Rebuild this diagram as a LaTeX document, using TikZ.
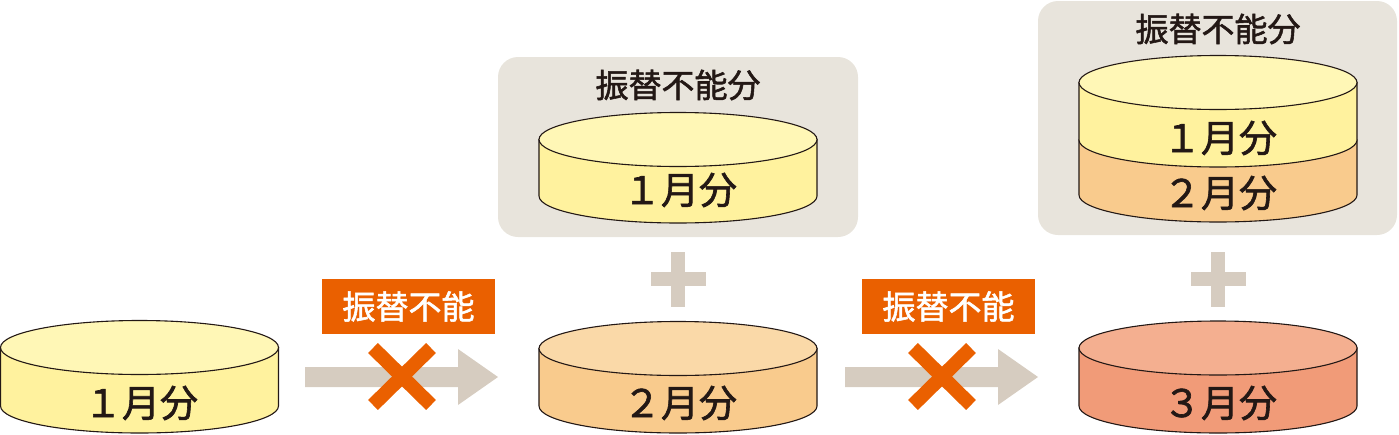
\documentclass[tikz,border=0pt]{standalone}
\usepackage{fontspec}
\setmainfont{Noto Sans CJK JP}[BoldFont=*,BoldFeatures={FakeBold=1.6}]
\definecolor{ink}{HTML}{231815}
\definecolor{panelgray}{HTML}{E8E4DC}
\definecolor{arrowc}{HTML}{D6CCC0}
\definecolor{orangec}{HTML}{EA6000}
\definecolor{ytop}{HTML}{FFF7B6}
\definecolor{yside}{HTML}{FFF29E}
\definecolor{otop}{HTML}{FAD9A8}
\definecolor{oside}{HTML}{F9CB8D}
\definecolor{rtop}{HTML}{F4AF90}
\definecolor{rside}{HTML}{F19B78}
% #1 cx, #2 top centre y, #3 bottom centre y, #4 side colour
\newcommand\cylside[4]{%
  \path[fill=#4,outl] (#1-139,#2) -- (#1-139,#3)
    arc[start angle=180,end angle=0,x radius=139,y radius=27]
    -- (#1+139,#2) -- cycle;}
\newcommand\cyltop[3]{%
  \path[fill=#3,outl] (#1,#2) ellipse[x radius=139,y radius=27];}
\begin{document}
\begin{tikzpicture}[x=1pt,y=-1pt,
  outl/.style={draw=ink,line width=1.1pt},
  lbl/.style={font=\fontsize{38}{38}\selectfont\bfseries,text=ink,inner sep=0pt},
  ttl/.style={font=\fontsize{33}{33}\selectfont\bfseries,text=ink,inner sep=0pt},
  panel/.style={fill=panelgray,rounded corners=20pt},
  tag/.style={fill=orangec,text=white,font=\fontsize{33}{33}\selectfont\bfseries,
    inner sep=0pt,minimum width=173pt,minimum height=55pt},
  blockarrow/.style={fill=arrowc},
  cross/.style={draw=orangec,line width=14pt},
]
\useasboundingbox (0,0) rectangle (1399,434);

% panels
\path[panel] (498,57) rectangle (858,237);
\path[panel] (1038,1) rectangle (1397,235);
\node[ttl] (t1) at (678,85) {振替不能分};
\node[ttl] (t2) at (1218,29) {振替不能分};

% cylinder in panel 1
\cylside{678}{139.5}{196}{yside}
\cyltop{678}{139.5}{ytop}
\node[lbl] (p1a) at (680,190) {１月分};

% two-layer cylinder in panel 2
\cylside{1218}{140}{195}{oside}
\cylside{1218}{82.5}{140}{yside}
\cyltop{1218}{82.5}{ytop}
\node[lbl] (p2a) at (1220,138) {１月分};
\node[lbl] (p2b) at (1220,193) {２月分};

% bottom cylinders
\cylside{139.5}{347.5}{406}{yside}
\cyltop{139.5}{347.5}{ytop}
\node[lbl] (c1) at (141,403) {１月分};

\cylside{678}{348.5}{406}{oside}
\cyltop{678}{348.5}{otop}
\node[lbl] (c2) at (680,403) {２月分};

\cylside{1218}{348}{406}{rside}
\cyltop{1218}{348}{rtop}
\node[lbl] (c3) at (1220,403) {３月分};

% plus signs
\fill[blockarrow] (671,252) rectangle (685,307);
\fill[blockarrow] (651,272) rectangle (706,286);
\fill[blockarrow] (1211,252) rectangle (1225,307);
\fill[blockarrow] (1191,272) rectangle (1246,286);

% arrows
\fill[blockarrow] (305,367) -- (458,367) -- (458,349) -- (498,377)
  -- (458,405) -- (458,387) -- (305,387) -- cycle;
\fill[blockarrow] (845,367) -- (998,367) -- (998,349) -- (1038,377)
  -- (998,405) -- (998,387) -- (845,387) -- cycle;

% crosses
\draw[cross] (373,348) -- (431,405) (431,348) -- (373,405);
\draw[cross] (913,348) -- (971,405) (971,348) -- (913,405);

% tags
\node[tag] (x1) at (408.5,306.5) {振替不能};
\node[tag] (x2) at (948.5,306.5) {振替不能};
\end{tikzpicture}
\end{document}
